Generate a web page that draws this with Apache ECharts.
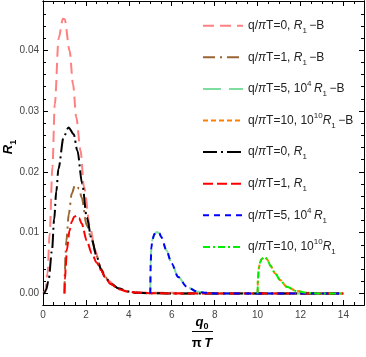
<!DOCTYPE html>
<html>
<head>
<meta charset="utf-8">
<script src="https://cdn.jsdelivr.net/npm/echarts@6/dist/echarts.min.js"></script>
<style>
  html, body { margin: 0; padding: 0; background: #fff; }
  #main { width: 366px; height: 357px; }
</style>
</head>
<body>
<div id="main"></div>
<script>
// q0/(pi T) and R1
// q/piT = 0, R1-B
let q0_a = [0, 0.1, 0.21, 0.31, 0.44, 0.55, 0.73, 0.93, 1.01, 1.24, 1.40, 1.55, 1.75, 1.91, 2.2, 2.42, 2.7, 3.0, 3.5, 4.0, 5.0, 14]
let r_a = [0, 0.0003, 0.0033, 0.0098, 0.0208, 0.0311, 0.042, 0.0452, 0.0451, 0.0399, 0.0344, 0.029, 0.0235, 0.0175, 0.0108, 0.0072, 0.0041, 0.0022, 0.0008, 0.0003, 0.0001, 0]
// q/piT = 1, R1-B
let q0_b = [1, 1.02, 1.05, 1.09, 1.2, 1.34, 1.48, 1.57, 1.68, 1.8, 2.04, 2.27, 2.5, 2.7, 2.89, 3.2, 3.54, 4.0, 4.36, 5, 6, 14]
let r_b = [0, 0.0035, 0.0065, 0.0087, 0.013, 0.0164, 0.0177, 0.0178, 0.0172, 0.0158, 0.0112, 0.0088, 0.0061, 0.004, 0.0027, 0.0015, 0.0008, 0.0003, 0.0001, 0.00003, 0, 0]
// q/piT = 0, R1
let q0_c = [0, 0.05, 0.15, 0.26, 0.42, 0.52, 0.62, 0.72, 0.96, 1.19, 1.43, 1.6, 1.83, 2.04, 2.27, 2.5, 2.7, 2.89, 3.2, 3.54, 4.0, 4.36, 5.0, 6, 14]
let r_c = [0, 0, 0.0006, 0.0022, 0.0071, 0.0122, 0.0168, 0.0205, 0.0257, 0.0273, 0.0262, 0.0235, 0.018, 0.0125, 0.0089, 0.0061, 0.004, 0.0027, 0.0015, 0.0008, 0.0003, 0.0001, 0.00003, 0, 0]
// q/piT = 1, R1
let q0_d = [1, 1.03, 1.06, 1.11, 1.24, 1.34, 1.45, 1.57, 1.68, 1.8, 2.04, 2.27, 2.5, 2.7, 2.89, 3.13, 3.54, 3.9, 4.5, 5, 6, 14]
let r_d = [0, 0.0025, 0.0045, 0.0071, 0.0104, 0.0118, 0.0126, 0.0128, 0.0124, 0.0115, 0.0087, 0.0066, 0.0051, 0.0038, 0.0027, 0.0016, 0.0007, 0.0003, 0.0001, 0.00003, 0, 0]
// q/piT = 5, 10^4 R1 (and R1-B, same curve)
let q0_e = [5, 5.02, 5.05, 5.1, 5.2, 5.31, 5.42, 5.51, 5.75, 6.0, 6.3, 6.7, 7.17, 7.6, 8, 14]
let r_e = [0, 0.005, 0.0075, 0.0089, 0.0098, 0.0101, 0.0099, 0.0093, 0.0071, 0.0049, 0.0027, 0.0011, 0.0003, 0.0001, 0, 0]
// q/piT = 10, 10^10 R1 (and R1-B, same curve)
let q0_f = [10, 10.02, 10.06, 10.12, 10.2, 10.35, 10.47, 10.59, 10.82, 11.05, 11.36, 11.83, 12.3, 12.8, 14]
let r_f = [0, 0.0025, 0.0042, 0.0052, 0.0057, 0.006, 0.0055, 0.0046, 0.0033, 0.0022, 0.0011, 0.0004, 0.0001, 0, 0]

let xTicks = [0, 2, 4, 6, 8, 10, 12, 14]
let yTicks = [0, 0.01, 0.02, 0.03, 0.04]

function pairs(xs, ys) {
  return xs.map((x, i) => [x, ys[i]])
}
function steps(a, b, d) {
  let out = []
  for (let v = a; v <= b + 1e-9; v += d) out.push(+v.toFixed(4))
  return out
}

const X_MIN = 0, X_MAX = 14.96, Y_MIN = -0.0019, Y_MAX = 0.0481
const FONT = 'Arial, "Liberation Sans", sans-serif'

function xAx(pos, major) {
  let vals = major ? xTicks : steps(0, 14.5, 0.5)
  return {
    type: 'value', position: pos, min: X_MIN, max: X_MAX,
    axisLine: {show: true, onZero: false, lineStyle: {color: '#000', width: 1}},
    axisTick: {show: true, inside: true, length: major ? 5 : 3, customValues: vals, lineStyle: {color: '#000'}},
    axisLabel: {show: major && pos === 'bottom', customValues: vals, fontSize: 10, color: '#444', margin: 5, fontFamily: FONT},
    splitLine: {show: false}
  }
}
function yAx(pos, major) {
  let vals = major ? yTicks : steps(0, 0.048, 0.002)
  return {
    type: 'value', position: pos, min: Y_MIN, max: Y_MAX,
    axisLine: {show: true, onZero: false, lineStyle: {color: '#000', width: 1}},
    axisTick: {show: true, inside: true, length: major ? 5 : 3, customValues: vals, lineStyle: {color: '#000'}},
    axisLabel: {show: major && pos === 'left', customValues: vals, fontSize: 10, color: '#444', margin: 4, fontFamily: FONT,
      formatter: v => v.toFixed(2)},
    splitLine: {show: false}
  }
}

function line(name, xs, ys, color, dash) {
  return {
    name: name, type: 'line', data: pairs(xs, ys),
    xAxisIndex: 0, yAxisIndex: 0,
    symbol: 'none', smooth: 0.3, smoothMonotone: 'x',
    lineStyle: {color: color, width: 2, type: dash},
    itemStyle: {color: color}
  }
}

let legendText = {
  A: 'q/{i|π}T=0, {i|R}{sub|1}\u2009\u2212B',
  B: 'q/{i|π}T=1, {i|R}{sub|1}\u2009\u2212B',
  E1: 'q/{i|π}T=5, 10{sup|4}\u2009{i|R}{sub|1}\u2009\u2212B',
  F1: 'q/{i|π}T=10, 10{sup|10}{i|R}{sub|1}\u2009\u2212B',
  C: 'q/{i|π}T=0, {i|R}{sub|1}',
  D: 'q/{i|π}T=1, {i|R}{sub|1}',
  E2: 'q/{i|π}T=5, 10{sup|4}\u2009{i|R}{sub|1}',
  F2: 'q/{i|π}T=10, 10{sup|10}{i|R}{sub|1}'
}

let myChart = echarts.init(document.getElementById('main'))
myChart.setOption({
  animation: false,
  backgroundColor: '#fff',
  grid: {left: 43, right: 2, top: 1, bottom: 52, containLabel: false},
  xAxis: [xAx('bottom', true), xAx('bottom', false), xAx('top', true), xAx('top', false)],
  yAxis: [yAx('left', true), yAx('left', false), yAx('right', true), yAx('right', false)],
  legend: {
    orient: 'vertical', left: 197, top: 11.7,
    itemWidth: 40, itemHeight: 14, itemGap: 13.6,
    itemStyle: {opacity: 0},
    formatter: n => legendText[n],
    textStyle: {
      fontSize: 12, color: '#222', fontFamily: FONT, lineHeight: 18,
      rich: {
        i: {fontSize: 12, fontStyle: 'italic', fontFamily: FONT, color: '#222', lineHeight: 18},
        sub: {fontSize: 8, verticalAlign: 'bottom', fontFamily: FONT, color: '#222', lineHeight: 11},
        sup: {fontSize: 8, verticalAlign: 'top', fontFamily: FONT, color: '#222', lineHeight: 11}
      }
    },
    data: ['A', 'B', 'E1', 'F1', 'C', 'D', 'E2', 'F2']
  },
  series: [
    line('A', q0_a, r_a, '#ff8080', [11, 6]),
    line('B', q0_b, r_b, '#996633', [12, 5, 2, 5]),
    line('E1', q0_e, r_e, '#80dda0', [18, 8]),
    line('F1', q0_f, r_f, '#ff8000', [5, 3]),
    line('C', q0_c, r_c, '#000000', [14, 4, 2, 4]),
    line('D', q0_d, r_d, '#ff0000', [10, 4]),
    line('E2', q0_e, r_e, '#0000ff', [6, 5]),
    line('F2', q0_f, r_f, '#00ee00', [7, 3, 2, 3])
  ],
  graphic: [
    {
      type: 'text', x: 8, y: 147, rotation: Math.PI / 2,
      style: {
        text: '{r|R}{s|1}', align: 'center', verticalAlign: 'middle',
        rich: {
          r: {fontSize: 13, fontWeight: 'bold', fontStyle: 'italic', fontFamily: FONT, fill: '#000', lineHeight: 20},
          s: {fontSize: 9, fontWeight: 'bold', fontFamily: FONT, fill: '#000', verticalAlign: 'bottom', lineHeight: 12}
        }
      }
    },
    {
      type: 'text', x: 202, y: 322,
      style: {
        text: '{q|q}{s|0}', align: 'center', verticalAlign: 'middle',
        rich: {
          q: {fontSize: 13, fontWeight: 'bold', fontStyle: 'italic', fontFamily: FONT, fill: '#000', lineHeight: 18},
          s: {fontSize: 9, fontWeight: 'bold', fontFamily: FONT, fill: '#000', verticalAlign: 'bottom', lineHeight: 12}
        }
      }
    },
    {
      type: 'line', shape: {x1: 192, y1: 331.5, x2: 213, y2: 331.5},
      style: {stroke: '#000', lineWidth: 1}
    },
    {
      type: 'text', x: 202, y: 343,
      style: {
        text: '{p|π}\u2009{t|T}', align: 'center', verticalAlign: 'middle',
        rich: {
          p: {fontSize: 13, fontWeight: 'bold', fontFamily: FONT, fill: '#000'},
          t: {fontSize: 13, fontWeight: 'bold', fontStyle: 'italic', fontFamily: FONT, fill: '#000'}
        }
      }
    }
  ]
})
</script>
</body>
</html>
